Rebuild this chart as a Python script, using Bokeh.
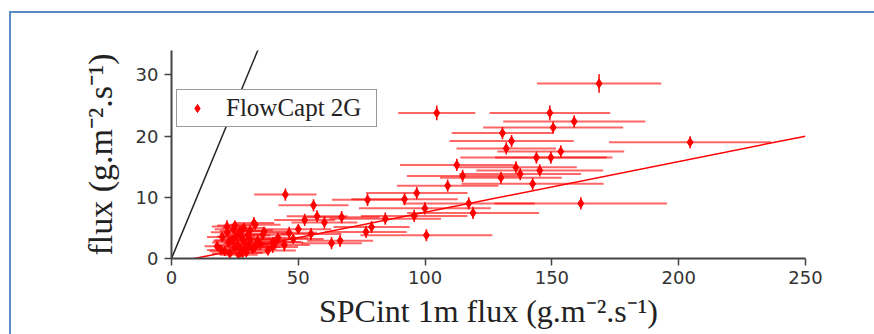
from bokeh.plotting import figure
from bokeh.models import Range1d, Legend, LegendItem
from bokeh.layouts import column
from bokeh.embed import file_html
from bokeh.resources import INLINE

# ---- data ----
flux_spc = [
    168.6, 104.6, 149.2, 158.8, 150.5, 130.5, 134.1, 132.0, 204.5, 153.5,
    143.9, 149.6, 112.5, 135.8, 145.2, 114.8, 129.9, 137.5, 108.9, 142.4,
    96.7, 91.9, 117.2, 161.4, 99.9, 118.9, 84.3, 95.7, 100.5,
    44.9, 56.0, 77.3, 52.5, 57.4, 60.3, 67.1, 78.9, 76.7, 63.1,
    66.5, 46.4, 55.0, 44.5, 39.9, 32.5, 21.9,
    18.0, 20.0, 21.0, 22.0, 22.5, 23.0, 24.0, 24.5, 25.0, 25.5,
    26.0, 26.5, 27.0, 27.5, 28.0, 28.5, 29.0, 29.5, 30.0, 30.5,
    31.0, 32.0, 33.0, 34.0, 35.0, 36.0, 38.0, 40.0, 42.0, 25.0,
    28.0, 31.0, 23.0, 27.0, 33.0, 48.0, 50.0, 36.5, 41.0, 19.5,
]
flux_fc = [
    28.6, 23.8, 23.8, 22.4, 21.4, 20.5, 19.2, 18.0, 19.0, 17.5,
    16.5, 16.5, 15.3, 14.9, 14.4, 13.5, 13.2, 13.8, 11.9, 12.2,
    10.7, 9.7, 9.0, 9.0, 8.2, 7.45, 6.5, 6.95, 3.8,
    10.45, 8.7, 9.6, 6.3, 6.9, 5.9, 6.75, 5.15, 4.35, 2.5,
    2.9, 4.2, 4.0, 2.2, 1.9, 5.8, 5.25,
    2.0, 3.5, 1.2, 4.3, 2.6, 0.8, 3.0, 4.8, 1.8, 3.6,
    2.2, 0.6, 4.0, 1.5, 3.2, 5.0, 2.5, 1.0, 3.8, 2.0,
    4.6, 1.6, 5.5, 3.0, 2.4, 3.9, 1.3, 2.7, 3.4, 5.4,
    0.9, 3.1, 2.9, 4.5, 1.9, 3.2, 4.8, 4.4, 2.6, 1.4,
]
err_spc = [
    24.5, 15.2, 23.8, 28.0, 27.6, 20.0, 24.5, 19.6, 32.0, 25.0,
    30.0, 22.0, 22.4, 24.0, 25.0, 22.0, 24.0, 24.0, 20.0, 28.0,
    20.0, 21.0, 26.0, 34.0, 26.0, 26.0, 22.0, 21.0, 26.0,
    12.3, 13.8, 14.0, 12.0, 12.0, 13.0, 15.0, 15.0, 16.0, 12.0,
    13.0, 11.0, 12.0, 10.0, 10.0, 8.0, 6.0,
    5.0, 6.0, 6.0, 6.5, 6.5, 7.0, 7.0, 7.5, 7.0, 7.5,
    8.0, 7.5, 8.0, 8.0, 8.5, 8.5, 8.5, 9.0, 9.0, 9.0,
    9.0, 9.5, 10.0, 10.0, 10.5, 10.5, 11.0, 11.0, 12.0, 7.0,
    8.0, 9.0, 6.5, 8.0, 10.0, 12.0, 13.0, 10.0, 11.0, 5.5,
]
err_fc = [
    1.5, 1.2, 1.2, 1.0, 1.0, 1.0, 1.0, 1.0, 1.0, 1.0,
    1.0, 1.0, 1.0, 1.0, 1.0, 1.0, 1.0, 1.0, 1.0, 1.0,
    1.0, 1.0, 1.0, 1.0, 1.0, 1.0, 1.0, 1.0, 1.0,
    1.0, 1.0, 1.0, 1.0, 1.0, 1.0, 1.0, 1.0, 1.0, 1.0,
    1.0, 1.0, 1.0, 1.0, 1.0, 1.0, 1.0,
    0.8, 0.8, 0.8, 0.8, 0.8, 0.8, 0.8, 0.8, 0.8, 0.8,
    0.8, 0.8, 0.8, 0.8, 0.8, 0.8, 0.8, 0.8, 0.8, 0.8,
    0.8, 0.8, 0.8, 0.8, 0.8, 0.8, 0.8, 0.8, 0.8, 0.8,
    0.8, 0.8, 0.8, 0.8, 0.8, 0.8, 0.8, 0.8, 0.8, 0.8,
]

# regression line of FlowCapt vs SPCint
fit_slope = 0.083
fit_intercept = -0.75
fit_x_start = 9.0

x_max = 250
y_max = 34
x_ticks = [0, 50, 100, 150, 200, 250]
y_ticks = [0, 10, 20, 30]
x_title = "SPCint 1m flux (g.m⁻².s⁻¹)"
y_title = "flux (g.m⁻².s⁻¹)"

serif = "Liberation Serif"
sans = "DejaVu Sans"

p = figure(width=863, height=321, output_backend="svg", toolbar_location=None,
           x_range=Range1d(0, x_max), y_range=Range1d(0, y_max),
           min_border_left=160, min_border_right=69, min_border_top=37,
           min_border_bottom=76)
p.outline_line_color = None
p.grid.visible = False
p.background_fill_color = "white"
p.border_fill_color = "white"

# 1:1 line
p.line([0, y_max + 2], [0, y_max + 2], line_color="#222222", line_width=1.5)

# error bars
x_lo = [a - e for a, e in zip(flux_spc, err_spc)]
x_hi = [a + e for a, e in zip(flux_spc, err_spc)]
y_lo = [a - e for a, e in zip(flux_fc, err_fc)]
y_hi = [a + e for a, e in zip(flux_fc, err_fc)]
p.segment(x_lo, flux_fc, x_hi, flux_fc, line_color="red", line_width=2, line_alpha=0.6)
p.segment(flux_spc, y_lo, flux_spc, y_hi, line_color="red", line_width=1.6, line_alpha=0.95)

# fit line
fx = [fit_x_start, x_max]
fy = [fit_slope * v + fit_intercept for v in fx]
p.line(fx, fy, line_color="red", line_width=1.5)

pts = p.scatter(flux_spc, flux_fc, marker="diamond", size=9, fill_color="red",
                line_color="red")

legend = Legend(items=[LegendItem(label="FlowCapt 2G", renderers=[pts])],
                location=(5, 131))
legend.label_text_font = serif
legend.label_text_font_size = "25px"
legend.label_text_color = "#222222"
legend.border_line_color = "#333333"
legend.border_line_width = 1.5
legend.padding = 4
legend.margin = 0
legend.glyph_width = 32
legend.label_standoff = 13
legend.label_width = 146
legend.background_fill_alpha = 1.0
p.add_layout(legend)

for ax in (p.xaxis[0], p.yaxis[0]):
    ax.axis_line_color = "#444444"
    ax.axis_line_width = 2
    ax.major_tick_line_color = "#444444"
    ax.minor_tick_line_color = "#444444"
    ax.major_tick_line_width = 1.5
    ax.minor_tick_line_width = 1.5
    ax.major_tick_in = 0
    ax.major_tick_out = 7
    ax.minor_tick_in = 0
    ax.minor_tick_out = 4
    ax.major_label_text_font = sans
    ax.major_label_text_font_size = "18px"
    ax.major_label_text_color = "#333333"
    ax.axis_label_text_font = serif
    ax.axis_label_text_font_style = "normal"
    ax.axis_label_text_color = "#222222"

p.xaxis.axis_label_text_font_size = "32px"
p.yaxis.axis_label_text_font_size = "34px"
p.xaxis.ticker = x_ticks
p.xaxis[0].ticker.num_minor_ticks = 5
p.yaxis.ticker = y_ticks
p.yaxis[0].ticker.num_minor_ticks = 2
p.xaxis.major_label_standoff = 5
p.yaxis.major_label_standoff = 6
p.xaxis.axis_label = x_title
p.yaxis.axis_label = y_title
p.xaxis.axis_label_standoff = 6
p.yaxis.axis_label_standoff = 14

# page frame (blue box) drawn as CSS borders of a wrapper
page = column(p, margin=(11, 0, 0, 9),
              styles={"border-top": "2px solid #5a8ac6",
                      "border-left": "2px solid #5a8ac6",
                      "background-color": "white"})

open("out.html", "w").write(file_html(page, INLINE))
